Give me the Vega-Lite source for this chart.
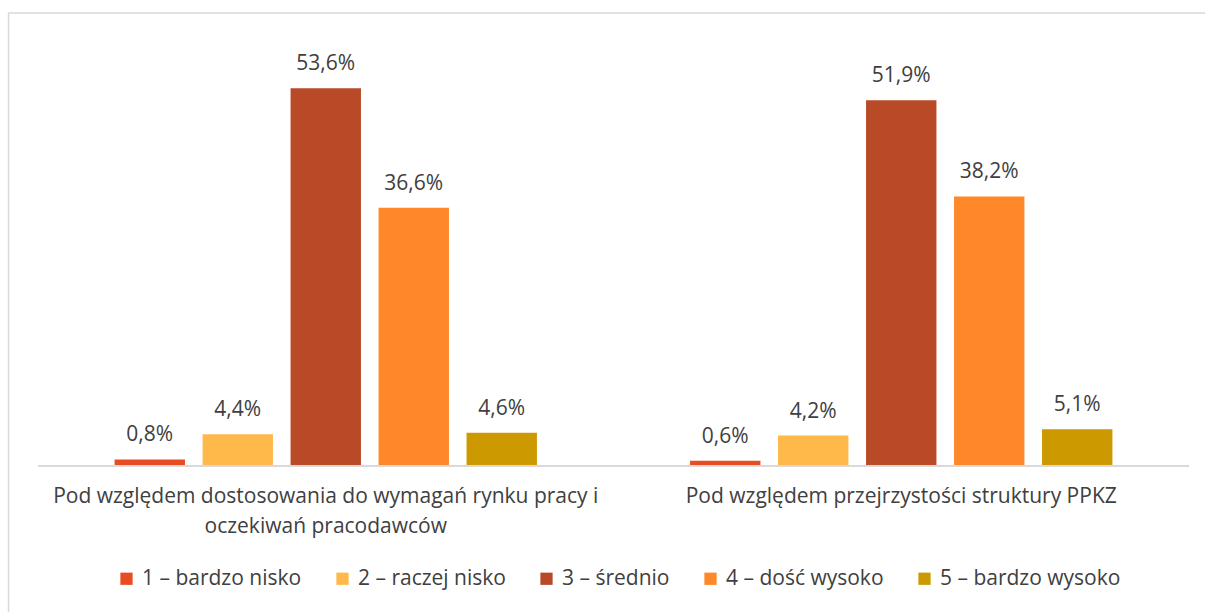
{
  "$schema": "https://vega.github.io/schema/vega-lite/v6.json",
  "width": 1197,
  "height": 599,
  "autosize": "none",
  "padding": {"left": 8, "top": 13, "right": 0, "bottom": 0},
  "background": "white",
  "config": {
    "view": {"stroke": null},
    "font": "Open Sans",
    "locale": {"number": {"decimal": ",", "thousands": " ", "grouping": [3], "currency": ["", " zł"]}}
  },
  "data": {
    "values": [
      {"aspekt": "Pod względem dostosowania do wymagań rynku pracy i oczekiwań pracodawców", "ocena": "1 – bardzo nisko", "wartosc": 0.008},
      {"aspekt": "Pod względem dostosowania do wymagań rynku pracy i oczekiwań pracodawców", "ocena": "2 – raczej nisko", "wartosc": 0.044},
      {"aspekt": "Pod względem dostosowania do wymagań rynku pracy i oczekiwań pracodawców", "ocena": "3 – średnio", "wartosc": 0.536},
      {"aspekt": "Pod względem dostosowania do wymagań rynku pracy i oczekiwań pracodawców", "ocena": "4 – dość wysoko", "wartosc": 0.366},
      {"aspekt": "Pod względem dostosowania do wymagań rynku pracy i oczekiwań pracodawców", "ocena": "5 – bardzo wysoko", "wartosc": 0.046},
      {"aspekt": "Pod względem przejrzystości struktury PPKZ", "ocena": "1 – bardzo nisko", "wartosc": 0.006},
      {"aspekt": "Pod względem przejrzystości struktury PPKZ", "ocena": "2 – raczej nisko", "wartosc": 0.042},
      {"aspekt": "Pod względem przejrzystości struktury PPKZ", "ocena": "3 – średnio", "wartosc": 0.519},
      {"aspekt": "Pod względem przejrzystości struktury PPKZ", "ocena": "4 – dość wysoko", "wartosc": 0.382},
      {"aspekt": "Pod względem przejrzystości struktury PPKZ", "ocena": "5 – bardzo wysoko", "wartosc": 0.051}
    ]
  },
  "layer": [
    {
      "data": {"values": [{}]},
      "mark": {"type": "rule", "color": "#D9D9D9", "strokeWidth": 1.5},
      "encoding": {"y": {"datum": 0.643}}
    },
    {
      "encoding": {
        "x": {
          "field": "aspekt",
          "type": "nominal",
          "sort": ["Pod względem dostosowania do wymagań rynku pracy i oczekiwań pracodawców", "Pod względem przejrzystości struktury PPKZ"],
          "scale": {"paddingInner": 0, "paddingOuter": 0.04, "align": 0.652},
          "axis": {
            "orient": "bottom",
            "offset": -147,
            "domain": false,
            "ticks": false,
            "grid": false,
            "title": null,
            "labelAngle": 0,
            "labelPadding": 20,
            "labelFontSize": 21,
            "labelColor": "#404040",
            "labelLimit": 0,
            "labelLineHeight": 30,
            "labelBaseline": "top",
            "labelExpr": "datum.label == 'Pod względem dostosowania do wymagań rynku pracy i oczekiwań pracodawców' ? ['Pod względem dostosowania do wymagań rynku pracy i', 'oczekiwań pracodawców'] : datum.label"
          }
        },
        "y": {
          "field": "wartosc",
          "type": "quantitative",
          "scale": {"domain": [-0.209, 0.643], "nice": false, "zero": false},
          "axis": {"orient": "left", "domain": true, "domainColor": "#D9D9D9", "domainWidth": 1.5, "ticks": false, "labels": false, "grid": false, "title": null}
        }
      },
      "layer": [
        {
          "mark": {"type": "bar"},
          "encoding": {
            "xOffset": {
              "field": "ocena",
              "type": "nominal",
              "sort": ["1 – bardzo nisko", "2 – raczej nisko", "3 – średnio", "4 – dość wysoko", "5 – bardzo wysoko"],
              "scale": {"paddingInner": 0.2, "paddingOuter": 0.87}
            },
            "y2": {"datum": 0},
            "color": {
              "field": "ocena",
              "type": "nominal",
              "scale": {
                "domain": ["1 – bardzo nisko", "2 – raczej nisko", "3 – średnio", "4 – dość wysoko", "5 – bardzo wysoko"],
                "range": ["#E84C22", "#FFB94A", "#B84A27", "#FF8828", "#CC9900"]
              },
              "legend": {
                "orient": "none",
                "legendX": 108,
                "legendY": 555,
                "direction": "horizontal",
                "title": null,
                "symbolType": "square",
                "symbolSize": 150,
                "symbolStrokeWidth": 0,
                "labelFontSize": 21,
                "labelColor": "#404040",
                "labelOffset": 5,
                "columnPadding": 30,
                "labelLimit": 0
              }
            }
          }
        },
        {
          "mark": {"type": "text", "baseline": "alphabetic", "dy": -18, "fontSize": 21, "color": "#404040"},
          "encoding": {
            "xOffset": {
              "field": "ocena",
              "type": "nominal",
              "sort": ["1 – bardzo nisko", "2 – raczej nisko", "3 – średnio", "4 – dość wysoko", "5 – bardzo wysoko"],
              "scale": {"paddingInner": 0.2, "paddingOuter": 0.87}
            },
            "text": {"field": "wartosc", "type": "quantitative", "format": ".1%"}
          }
        },
        {
          "mark": {"type": "bar", "color": "#D9D9D9"},
          "encoding": {
            "y": {"datum": 0},
            "y2": {"datum": -0.0028}
          }
        }
      ]
    }
  ]
}
